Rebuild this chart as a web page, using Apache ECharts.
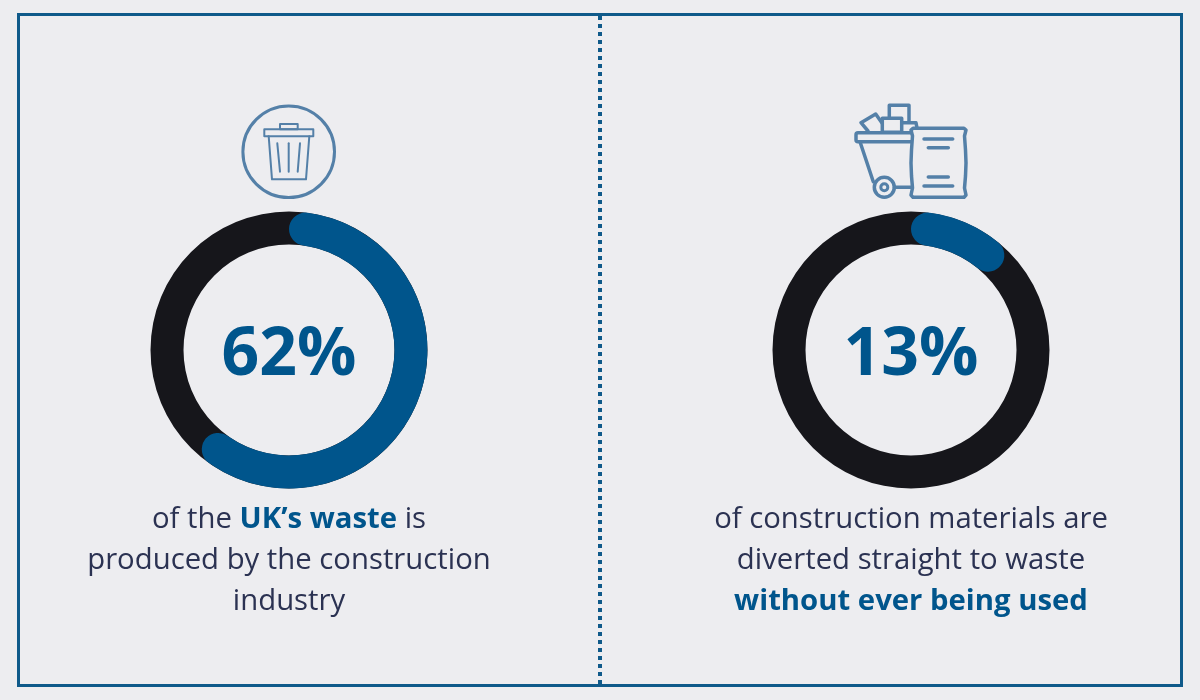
<!DOCTYPE html>
<html><head><meta charset="utf-8">
<style>html,body{margin:0;padding:0;background:#EDEDF0}#c{width:1200px;height:700px}</style>
<script src="https://cdn.jsdelivr.net/npm/echarts@6/dist/echarts.min.js"></script>
</head><body><div id="c"></div>
<script>
const percentages = [62, 13];
const centerX = [289, 911];
const leftCaption = '{n|of the }{b|UK’s waste}{n| is}\n{n|produced by the construction}\n{n|industry}';
const rightCaption = '{n|of construction materials are}\n{n|diverted straight to waste}\n{b|without ever being used}';
const captions = [leftCaption, rightCaption];
const BG = '#EDEDF0', BLUE = '#00558C', DARK = '#16161B', TEXT = '#2B3252', ICON = '#5480A8', FONT = '"Open Sans", sans-serif';
const chart = echarts.init(document.getElementById('c'), null, {renderer: 'canvas'});
const series = [];
percentages.forEach((p, i) => {
  const cx = [centerX[i], 350];
  series.push({type: 'pie', silent: true, animation: false, center: cx, radius: [105.5, 138.5], z: 1,
    label: {show: false}, labelLine: {show: false},
    data: [{value: 100, itemStyle: {color: DARK}}]});
  series.push({type: 'pie', silent: true, animation: false, center: cx, radius: [105.5, 138.5], z: 2,
    startAngle: 90, itemStyle: {borderRadius: 16.5}, labelLine: {show: false},
    data: [
      {value: p, itemStyle: {color: BLUE},
       label: {show: true, position: 'center', formatter: p + '%', color: BLUE, fontFamily: FONT, fontWeight: 700, fontSize: 66, offset: [0, 6]}},
      {value: 100 - p, itemStyle: {color: 'transparent'}, label: {show: false}}
    ]});
});
const st = (w) => ({stroke: ICON, fill: 'none', lineWidth: w, lineJoin: 'round', lineCap: 'round'});
const line = (x1, y1, x2, y2, w) => ({type: 'line', shape: {x1, y1, x2, y2}, style: st(w)});
const poly = (points, w) => ({type: 'polyline', shape: {points}, style: st(w)});
const rect = (x, y, width, height, w, r) => ({type: 'rect', shape: {x, y, width, height, r: r || 0}, style: st(w)});
const circle = (cx, cy, r, w) => ({type: 'circle', shape: {cx, cy, r}, style: st(w)});
const sack = [[913, 128.3], [964, 128.3], [966, 130], [964.5, 136], [965.5, 150], [966, 163], [965.5, 176], [964.5, 188], [966, 195], [964, 197.3],
  [913, 197.3], [911, 195], [912.5, 188], [911.5, 176], [911, 163], [911.5, 150], [912.5, 136], [911, 130]];
const graphics = [
  {type: 'rect', shape: {x: 18.5, y: 14.5, width: 1163, height: 671}, style: {stroke: '#0F5A8A', fill: 'none', lineWidth: 3}, z: 5},
  {type: 'line', shape: {x1: 600, y1: 16, x2: 600, y2: 684}, style: {stroke: '#0F5A8A', lineWidth: 4, lineDash: [4, 4]}, z: 4},
  // bin icon
  circle(288.7, 151.7, 45.8, 3),
  rect(264.3, 129.3, 49, 7, 2),
  rect(280, 124, 17.7, 5.3, 2),
  poly([[268.7, 136.3], [272, 179.3], [306, 179.3], [309.3, 136.3]], 2),
  line(277.3, 143.3, 280, 171.7, 2),
  line(288.7, 143.3, 288.7, 171.7, 2),
  line(300, 143.3, 297.7, 171.7, 2),
  // cart and sack icon
  poly([[889.3, 117.5], [889.3, 105.3], [909, 105.3], [909, 122]], 3.5),
  poly([[868, 131], [861, 122.7], [875.7, 114], [882, 123]], 3.5),
  rect(882.3, 118.3, 19.4, 14, 3.5),
  poly([[902, 122.7], [916, 122.7], [917, 128]], 3.5),
  rect(856, 132.7, 57.3, 9, 3.5, 2),
  poly([[860, 141.7], [873.3, 181.7]], 3.5),
  circle(884.3, 187.3, 10, 3.5),
  circle(884.3, 187.3, 3.5, 3),
  line(894.5, 187.3, 911, 187.3, 3.5),
  {type: 'polygon', shape: {points: sack}, style: {stroke: ICON, fill: BG, lineWidth: 3.5, lineJoin: 'round'}},
  line(924, 139, 952.7, 139, 3.5),
  line(928.3, 147.7, 948.3, 147.7, 3.5),
  line(928.3, 177, 948.3, 177, 3.5),
  line(924, 186, 952.7, 186, 3.5)
];
chart.setOption({
  backgroundColor: BG,
  animation: false,
  title: captions.map((text, i) => ({
    text, left: centerX[i], top: 499.5, padding: 0, textAlign: 'center',
    textStyle: {rich: {
      n: {fontFamily: FONT, fontSize: 29.3, fontWeight: 400, color: TEXT, lineHeight: 41},
      b: {fontFamily: FONT, fontSize: 29.3, fontWeight: 700, color: BLUE, lineHeight: 41}
    }}
  })),
  series,
  graphic: {elements: graphics}
});
</script></body></html>
